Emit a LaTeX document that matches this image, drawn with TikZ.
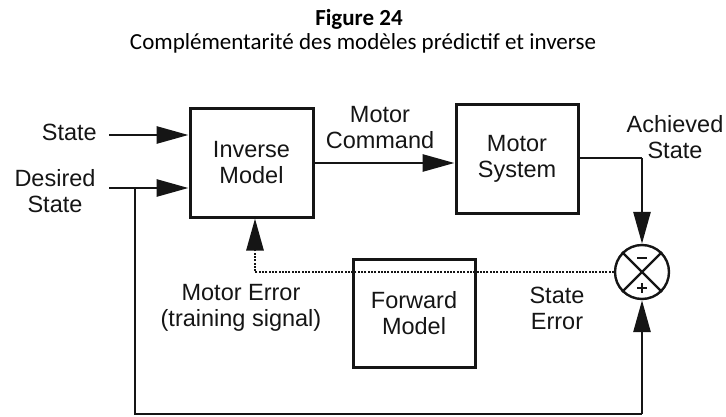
\documentclass[tikz,border=0pt]{standalone}
\usepackage{fontspec}
\setmainfont{Liberation Sans}
\newfontfamily\captionfont{Carlito}
\usetikzlibrary{arrows.meta}

\definecolor{ink}{HTML}{151515}

\tikzset{
  block/.style={draw=ink, line width=3pt, minimum width=122pt, minimum height=108pt,
    align=center, text=ink, font=\fontsize{23.5}{26}\selectfont},
  lbl/.style={align=center, text=ink, font=\fontsize{23.5}{26}\selectfont, inner sep=0pt},
  sig/.style={draw=ink, line width=2.8pt, -{Triangle[length=32pt,width=17pt]}},
  wire/.style={draw=ink, line width=2.8pt},
  errsig/.style={draw=ink, line width=2.4pt, dash pattern=on 2pt off 1.3pt},
}

\begin{document}
\begin{tikzpicture}[x=1pt,y=-1pt]
\useasboundingbox (0,0) rectangle (726,417);

% caption
\node[inner sep=0pt, anchor=base, font=\captionfont\bfseries\fontsize{23}{26}\selectfont] (fig) at (359,26) {Figure 24};
\node[inner sep=0pt, anchor=base, font=\captionfont\fontsize{23}{26}\selectfont] (cap) at (363,50) {Complémentarité des modèles prédictif et inverse};

% blocks
\node[block, minimum width=123pt] (inv) at (251.5,163) {Inverse\\Model};
\node[block] (msys) at (517,159) {Motor\\System};
\node[block] (fwd) at (414,313) {Forward\\Model};

% comparator
\node[circle, draw=ink, line width=2.4pt, minimum size=54pt, inner sep=0pt] (sum) at (642,272) {};
\draw[ink, line width=2.2pt] (sum.north west) -- (sum.south east);
\draw[ink, line width=2.2pt] (sum.north east) -- (sum.south west);
\draw[ink, line width=1.8pt] ([xshift=-5pt,yshift=14pt]sum.center) -- ([xshift=5pt,yshift=14pt]sum.center);
\draw[ink, line width=1.8pt] ([xshift=-5pt,yshift=-16pt]sum.center) -- ([xshift=5pt,yshift=-16pt]sum.center);
\draw[ink, line width=1.8pt] ([yshift=-11pt]sum.center) -- ([yshift=-21pt]sum.center);

% labels
\node[lbl, anchor=east] (lstate) at (97,132) {State};
\node[lbl] (ldes) at (55,191) {Desired\\State};
\node[lbl] (lcmd) at (380,128) {Motor\\Command};
\node[lbl] (lach) at (675,137) {Achieved\\State};
\node[lbl] (lmerr) at (241,308) {Motor Error\\(training signal)};
\node[lbl] (lserr) at (557,308) {State\\Error};

% anchor points
\coordinate (sIn) at (109,135);
\coordinate (dIn) at (109,188);
\coordinate (fbTop) at (135,188);
\coordinate (fbLow) at (135,414);
\coordinate (fbEnd) at (642,414);
\coordinate (achTurn) at (642,158);
\coordinate (errTurn) at (255,272);

% connectors
\draw[sig] (sIn) -- (sIn -| inv.west);
\draw[sig] (dIn) -- (dIn -| inv.west);
\draw[sig] (inv.east |- 0,163) -- (msys.west |- 0,163);
\draw[wire] (msys.east |- achTurn) -- (achTurn);
\draw[sig] (achTurn) -- (sum.north);
\draw[wire] (fbTop) -- (fbLow) -- (fbEnd);
\draw[sig] (fbEnd) -- (sum.south);
\draw[errsig] (sum.west) -- (errTurn) -- ([yshift=-30pt]errTurn |- inv.south);
\draw[sig] ([yshift=-32pt]errTurn |- inv.south) -- (errTurn |- inv.south);
\end{tikzpicture}
\end{document}
